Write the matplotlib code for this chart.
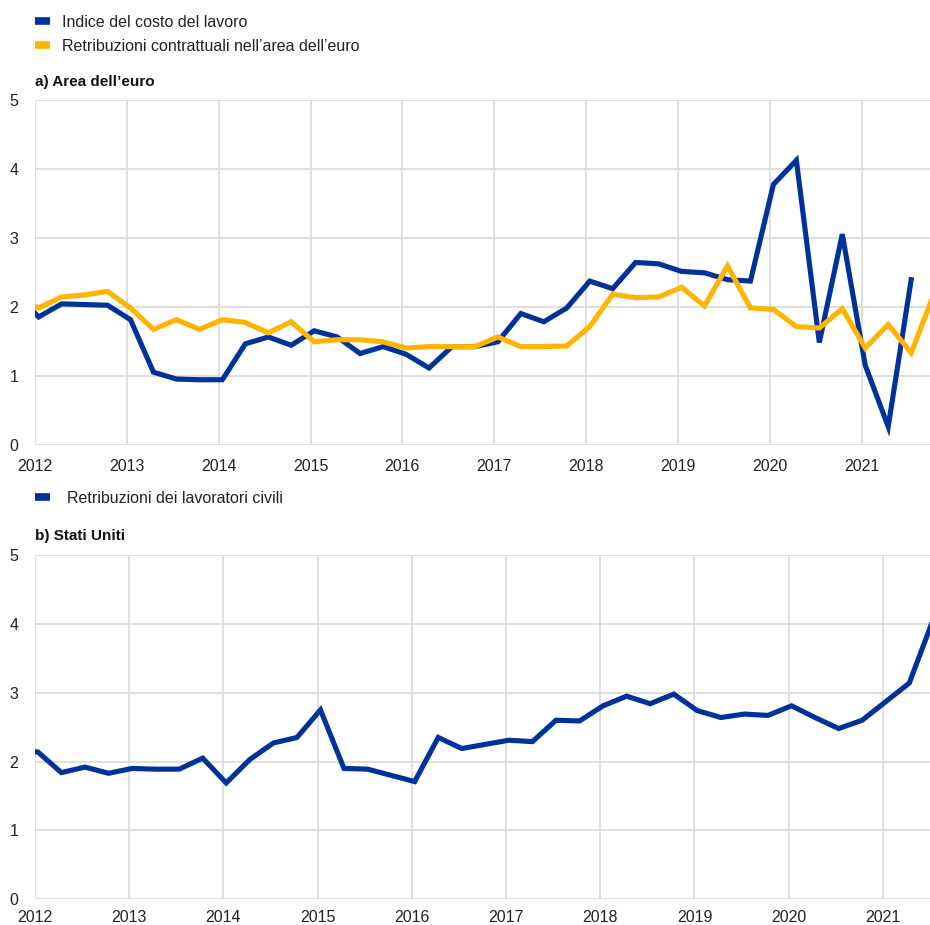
import numpy as np
import matplotlib.pyplot as plt
from matplotlib.lines import Line2D

plt.rcParams['font.family'] = ['Liberation Sans', 'DejaVu Sans']

# quarterly observations, first point is Q4 2011 (partly clipped at the left edge)
start = 2011.79
quarter = 0.25

# a) Area dell'euro
lci = [2.20, 1.86, 2.05, 2.04, 2.03, 1.82, 1.06, 0.96, 0.95, 0.95, 1.47, 1.57, 1.45,
       1.66, 1.57, 1.33, 1.43, 1.32, 1.12, 1.43, 1.43, 1.50, 1.91, 1.79, 1.99,
       2.38, 2.27, 2.65, 2.63, 2.52, 2.50, 2.40, 2.38, 3.78, 4.13, 1.49, 3.06,
       1.16, 0.27, 2.40]
negotiated = [2.13, 1.99, 2.15, 2.18, 2.23, 1.99, 1.68, 1.82, 1.68, 1.82, 1.78, 1.63,
              1.79, 1.50, 1.53, 1.53, 1.50, 1.41, 1.43, 1.43, 1.43, 1.57, 1.43,
              1.43, 1.44, 1.72, 2.19, 2.14, 2.15, 2.29, 2.02, 2.60, 1.99, 1.97,
              1.72, 1.70, 1.98, 1.41, 1.75, 1.34, 2.20]

# b) Stati Uniti
eci = [2.15, 2.14, 1.84, 1.92, 1.83, 1.90, 1.89, 1.89, 2.05, 1.69, 2.03, 2.27, 2.35,
       2.75, 1.90, 1.89, 1.80, 1.71, 2.35, 2.19, 2.25, 2.31, 2.29, 2.60, 2.59,
       2.81, 2.95, 2.84, 2.98, 2.74, 2.64, 2.69, 2.67, 2.81, 2.64, 2.48, 2.60,
       2.87, 3.14, 4.05]

years = list(range(2012, 2022))
yticks = [0, 1, 2, 3, 4, 5]

blue = '#003299'
yellow = '#ffb400'
grid_col = '#d9d9d9'


def dates(values):
    return start + quarter * np.arange(len(values))


def style(ax, xmax, xpad):
    ax.set_xlim(2012, xmax)
    ax.set_ylim(0, 5)
    ax.set_xticks(years)
    ax.set_xticklabels([str(y) for y in years])
    ax.set_yticks(yticks)
    for s in ax.spines.values():
        s.set_visible(False)
    ax.grid(True, color=grid_col, linewidth=1.2)
    ax.set_axisbelow(True)
    ax.tick_params(length=0, labelsize=11.5, colors='#222222')
    ax.tick_params(axis='x', pad=xpad)
    ax.tick_params(axis='y', pad=12)


fig = plt.figure(figsize=(9.3, 9.25), dpi=100)

ax1 = fig.add_axes([35 / 930, 1 - 445.3 / 925, 895 / 930, 345 / 925])
ax1.plot(dates(lci), lci, color=blue, lw=3.7, solid_joinstyle='miter')
ax1.plot(dates(negotiated), negotiated, color=yellow, lw=3.7, solid_joinstyle='miter')
style(ax1, 2021.745, 10)

ax2 = fig.add_axes([35 / 930, 1 - 899.3 / 925, 895 / 930, 344.3 / 925])
ax2.plot(dates(eci) - 0.01, eci, color=blue, lw=3.7, solid_joinstyle='miter')
style(ax2, 2021.50, 8)

# legends and panel titles
h_blue = Line2D([], [], color=blue, lw=5.5, solid_capstyle='butt')
h_yel = Line2D([], [], color=yellow, lw=5.5, solid_capstyle='butt')
fig.legend([h_blue, h_yel],
           ['Indice del costo del lavoro',
            'Retribuzioni contrattuali nell\u2019area dell\u2019euro'],
           loc='upper left', bbox_to_anchor=(35 / 930, 1 - 15 / 925), frameon=False,
           fontsize=11.5, handlelength=0.94, handletextpad=0.75,
           labelspacing=0.55, borderpad=0, borderaxespad=0, labelcolor='#222222')
fig.legend([h_blue], ['Retribuzioni dei lavoratori civili'],
           loc='upper left', bbox_to_anchor=(35 / 930, 1 - 491 / 925), frameon=False,
           fontsize=11.5, handlelength=0.94, handletextpad=1.06,
           borderpad=0, borderaxespad=0, labelcolor='#222222')

fig.text(35 / 930, 1 - 82 / 925, 'a) Area dell\u2019euro', fontsize=11,
         fontweight='bold', va='center', ha='left', color='#111111')
fig.text(35 / 930, 1 - 536 / 925, 'b) Stati Uniti', fontsize=11,
         fontweight='bold', va='center', ha='left', color='#111111')

fig.savefig('out.png', dpi=100)
